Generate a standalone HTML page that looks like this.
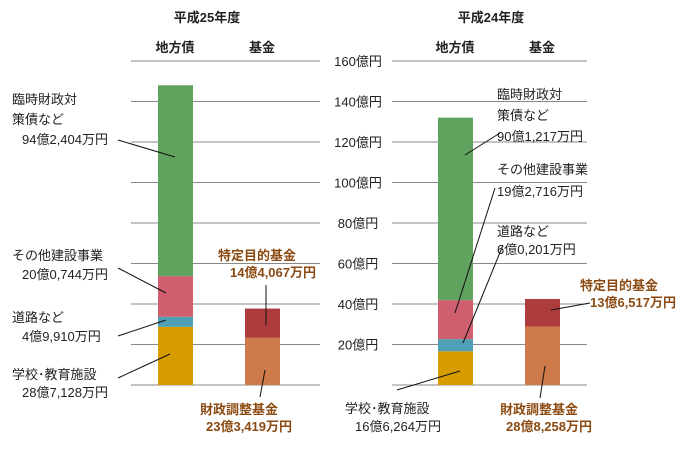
<!DOCTYPE html>
<html><head><meta charset="utf-8"><style>
body{margin:0;background:#fff;}
svg text{font-family:"Liberation Sans","Noto Sans CJK JP",sans-serif;}
</style></head><body>
<svg width="697" height="448" xmlns="http://www.w3.org/2000/svg">
<g id="grid"></g><g id="bars"></g><g id="labels"></g>
</svg>
<script>
const ticks=[0,20,40,60,80,100,120,140,160];
const tickLabels=["","20億円","40億円","60億円","80億円","100億円","120億円","140億円","160億円"];
const seriesNames=["school","roads","other","temp"];
const debt25=[28.71,4.99,20.07,94.24];
const debt24=[16.63,6.02,19.27,90.12];
const fund25=[23.34,14.41];
const fund24=[28.83,13.65];
const debtColors=["#d69c00","#4fa0b7","#cf5f6e","#5fa35f"];
const fundColors=["#cf7a4a","#ad3d3d"];
const NS="http://www.w3.org/2000/svg";
function y(v){return 385-v*324/160;}
function mk(tag,attrs,parent,text){const e=document.createElementNS(NS,tag);for(const k in attrs)e.setAttribute(k,attrs[k]);if(text!==undefined)e.textContent=text;document.getElementById(parent).appendChild(e);return e;}
ticks.forEach((t,i)=>{
 const a=mk('line',{x1:131,x2:320,y1:y(t),y2:y(t),stroke:'#888','stroke-width':1},'grid');
 
 const b=mk('line',{x1:392,x2:587,y1:y(t),y2:y(t),stroke:'#888','stroke-width':1},'grid');
 
 if(tickLabels[i]){const tx=mk('text',{x:358,y:y(t)+5,'text-anchor':'middle','font-size':13,fill:'#222'},'grid',tickLabels[i]);
 }
});
function stack(vals,colors,x,name){let c=0;vals.forEach((v,i)=>{const r=mk('rect',{x:x,width:35,y:y(c+v),height:y(c)-y(c+v),fill:colors[i]},'bars');
 c+=v;});}
stack(debt25,debtColors,158,'debt-2013');stack(fund25,fundColors,245,'fund-2013');
stack(debt24,debtColors,438,'debt-2012');stack(fund24,fundColors,525,'fund-2012');
function T(x,yy,s,o){o=o||{};const t=mk('text',{x:x,y:yy,'font-size':o.fs||13,'text-anchor':o.a||'start',fill:o.c||'#222','font-weight':o.b?'bold':'normal'},'labels',s);
 }
function L(x1,y1,x2,y2){const l=mk('line',{x1,y1,x2,y2,stroke:'#111','stroke-width':1},'labels');}
T(207,22,'平成25年度',{a:'middle',b:1,n:'title-2013'});T(491,22,'平成24年度',{a:'middle',b:1,n:'title-2012'});
T(175,52,'地方債',{a:'middle',b:1,n:'header-debt'});T(262,52,'基金',{a:'middle',b:1,n:'header-fund'});
T(455,52,'地方債',{a:'middle',b:1,n:'header-debt'});T(542,52,'基金',{a:'middle',b:1,n:'header-fund'});
const br='#8b4a12';
T(12,104,'臨時財政対');T(12,124,'策債など');T(22,144,'94億2,404万円');L(118,140,175,157);
T(12,260,'その他建設事業');T(22,279,'20億0,744万円');L(118,268,166,293);
T(12,322,'道路など');T(22,341,'4億9,910万円');L(118,336,166,320);
T(12,379,'学校･教育施設');T(22,397,'28億7,128万円');L(118,378,170,354);
T(218,260,'特定目的基金',{b:1,c:br});T(230,277,'14億4,067万円',{b:1,c:br});L(266,285,266,325);
T(200,414,'財政調整基金',{b:1,c:br});T(206,431,'23億3,419万円',{b:1,c:br});L(260,397,265,370);
T(497,99,'臨時財政対');T(497,120,'策債など');T(497,141,' 90億1,217万円');L(465,155,500,133);
T(497,174,'その他建設事業');T(497,196,' 19億2,716万円');L(455,313,495,188);
T(497,236,'道路など');T(497,254,'  6億0,201万円');L(463,343,503,245);
T(345,413,'学校･教育施設');T(355,431,'16億6,264万円');L(397,390,460,371);
T(580,290,'特定目的基金',{b:1,c:br});T(590,307,'13億6,517万円',{b:1,c:br});L(551,310,590,303);
T(500,414,'財政調整基金',{b:1,c:br});T(506,431,'28億8,258万円',{b:1,c:br});L(540,398,545,366);
</script>
</body></html>
